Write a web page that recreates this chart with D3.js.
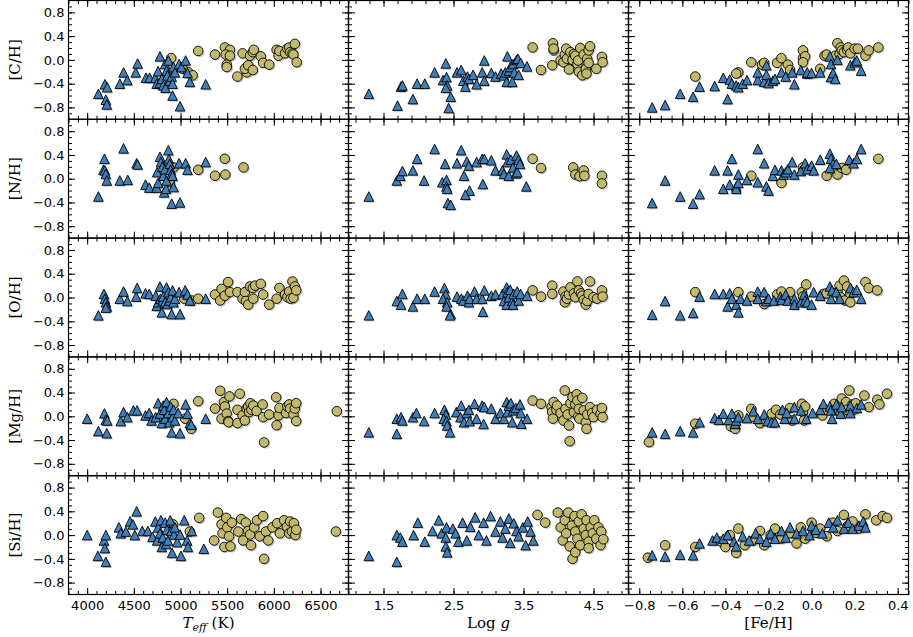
<!DOCTYPE html>
<html>
<head>
<meta charset="utf-8">
<script src="https://cdn.jsdelivr.net/npm/d3@7"></script>
<style>
  body { margin: 0; background: #fff; }
  svg { display: block; }
</style>
</head>
<body>
<svg id="chart" width="913" height="637"></svg>
<script>
// ---- Abundance data: [x, value] pairs, giants (triangles) and dwarfs (circles) ----
// [C/H]
const cTeffG = [[4120,-0.57],[4190,-0.41],[4215,-0.46],[4200,-0.67],[4210,-0.75],[4350,-0.40],[4390,-0.21],[4430,-0.34],[4520,-0.21],[4540,-0.06],[4630,-0.30],[4670,-0.30],[4730,-0.30],[4745,-0.40],[4760,-0.19],[4780,0.06],[4780,-0.39],[4800,-0.32],[4815,-0.43],[4835,-0.07],[4840,-0.47],[4850,-0.18],[4860,-0.26],[4870,-0.01],[4885,-0.35],[4905,-0.28],[4915,-0.40],[4915,-0.60],[4925,-0.12],[4940,-0.21],[4985,-0.07],[4995,-0.78],[5010,-0.12],[5055,-0.01],[5075,-0.22],[5100,-0.37],[5270,-0.41]];
const cTeffD = [[4900,0.03],[5025,-0.15],[5085,-0.21],[5130,-0.26],[5190,0.15],[5370,0.09],[5475,0.21],[5530,0.17],[5485,0.09],[5530,0.07],[5495,-0.08],[5495,-0.12],[5610,-0.28],[5665,0.11],[5710,-0.21],[5690,-0.15],[5725,-0.09],[5745,0.07],[5775,0.13],[5785,0.17],[5775,-0.17],[5860,0.06],[5885,-0.05],[5950,-0.08],[6030,0.17],[6050,0.07],[6060,0.15],[6120,0.11],[6145,0.19],[6165,0.21],[6175,0.13],[6200,0.11],[6210,0.09],[6225,0.27],[6245,-0.04]];
const cLoggG = [[1.29,-0.57],[1.70,-0.77],[1.75,-0.45],[1.77,-0.43],[1.92,-0.66],[1.98,-0.40],[2.09,-0.40],[2.23,-0.21],[2.39,-0.06],[2.35,-0.34],[2.40,-0.29],[2.41,-0.43],[2.39,-0.47],[2.46,-0.62],[2.43,-0.81],[2.55,-0.21],[2.61,-0.17],[2.64,-0.35],[2.67,-0.45],[2.70,-0.28],[2.72,-0.32],[2.78,-0.25],[2.83,-0.41],[2.91,-0.21],[2.94,-0.35],[2.94,-0.01],[3.04,-0.22],[3.10,-0.28],[3.18,-0.23],[3.22,-0.26],[3.24,-0.21],[3.26,-0.37],[3.27,0.06],[3.29,-0.18],[3.31,-0.12],[3.34,-0.37],[3.35,-0.07],[3.37,-0.21],[3.40,0.00],[3.42,0.02],[3.43,-0.25],[3.46,-0.05],[3.55,-0.11]];
const cLoggD = [[3.63,0.21],[3.75,-0.17],[3.91,-0.09],[3.92,0.28],[3.93,0.16],[3.93,0.19],[4.03,-0.01],[4.07,-0.04],[4.09,0.09],[4.11,0.19],[4.12,0.02],[4.15,-0.16],[4.17,0.13],[4.20,0.00],[4.22,0.10],[4.24,0.07],[4.27,-0.07],[4.28,-0.01],[4.29,-0.20],[4.31,0.20],[4.34,-0.26],[4.36,0.09],[4.39,-0.15],[4.40,-0.23],[4.41,0.02],[4.43,-0.05],[4.43,0.16],[4.45,0.23],[4.54,-0.15],[4.62,0.05],[4.63,-0.04]];
const cFehG = [[-0.74,-0.80],[-0.68,-0.76],[-0.61,-0.57],[-0.55,-0.62],[-0.52,-0.45],[-0.45,-0.44],[-0.41,-0.30],[-0.39,-0.66],[-0.38,-0.33],[-0.37,-0.40],[-0.35,-0.43],[-0.34,-0.46],[-0.32,-0.40],[-0.30,-0.34],[-0.25,-0.34],[-0.25,-0.21],[-0.22,-0.37],[-0.21,-0.09],[-0.21,-0.25],[-0.20,-0.39],[-0.18,-0.35],[-0.17,-0.32],[-0.14,-0.21],[-0.12,-0.28],[-0.08,-0.41],[-0.09,-0.21],[-0.05,-0.17],[-0.02,-0.23],[-0.02,-0.21],[0.00,-0.22],[0.04,-0.21],[0.085,0.06],[0.09,-0.07],[0.09,-0.29],[0.10,-0.22],[0.11,-0.32],[0.12,0.00],[0.18,-0.09],[0.20,-0.04],[0.21,-0.01],[0.23,-0.18]];
const cFehD = [[-0.54,-0.28],[-0.34,-0.21],[-0.35,-0.23],[-0.28,-0.04],[-0.23,-0.08],[-0.22,-0.05],[-0.16,-0.05],[-0.14,0.03],[-0.11,-0.08],[-0.10,-0.17],[-0.04,0.03],[-0.04,0.16],[-0.03,0.06],[-0.04,-0.04],[0.04,-0.15],[0.06,0.07],[0.07,0.09],[0.11,0.07],[0.12,0.28],[0.13,0.10],[0.135,0.21],[0.14,0.16],[0.15,0.13],[0.165,0.17],[0.17,0.21],[0.18,0.11],[0.20,0.19],[0.215,0.19],[0.25,0.07],[0.265,0.16],[0.31,0.21]];

// [N/H]
const nTeffG = [[4120,-0.30],[4185,0.335],[4175,0.15],[4190,0.14],[4200,0.08],[4210,-0.03],[4350,-0.03],[4390,0.51],[4435,-0.02],[4530,0.26],[4540,0.24],[4625,-0.10],[4665,-0.15],[4745,-0.15],[4750,0.11],[4760,-0.07],[4780,0.37],[4790,0.28],[4805,0.20],[4815,0.05],[4825,-0.23],[4835,0.16],[4845,-0.17],[4850,-0.03],[4870,0.48],[4875,0.33],[4885,0.25],[4895,0.15],[4905,0.08],[4905,-0.42],[4915,0.05],[4925,-0.14],[4985,0.26],[4995,-0.40],[5055,0.26],[5075,0.15],[5270,0.28]];
const nTeffD = [[4925,0.19],[4885,-0.06],[5190,0.15],[5370,0.05],[5475,0.335],[5480,0.07],[5675,0.19]];
const nLoggG = [[1.29,-0.30],[1.69,-0.03],[1.74,0.05],[1.77,0.13],[1.92,0.14],[1.98,0.335],[2.08,-0.03],[2.23,0.50],[2.38,0.25],[2.34,-0.06],[2.40,-0.02],[2.40,-0.13],[2.41,-0.17],[2.42,-0.41],[2.46,-0.44],[2.55,0.26],[2.61,0.48],[2.65,0.05],[2.69,0.29],[2.72,0.22],[2.73,-0.20],[2.67,-0.27],[2.83,0.28],[2.91,0.335],[2.94,0.335],[2.92,-0.09],[3.04,0.31],[3.10,0.14],[3.20,0.14],[3.22,0.08],[3.26,0.41],[3.27,0.28],[3.29,0.05],[3.32,0.32],[3.35,0.19],[3.39,0.09],[3.40,0.39],[3.41,0.11],[3.43,0.32],[3.45,0.25],[3.54,-0.13]];
const nLoggD = [[3.63,0.335],[3.75,0.18],[4.21,0.19],[4.24,0.07],[4.30,0.04],[4.36,0.14],[4.37,0.05],[4.62,0.05],[4.62,-0.08]];
const nFehG = [[-0.74,-0.41],[-0.68,-0.03],[-0.61,-0.30],[-0.55,-0.42],[-0.52,-0.26],[-0.45,0.14],[-0.41,-0.17],[-0.39,0.14],[-0.37,0.335],[-0.38,-0.10],[-0.35,-0.13],[-0.35,-0.17],[-0.34,0.07],[-0.34,-0.07],[-0.30,-0.02],[-0.25,0.50],[-0.25,-0.06],[-0.22,0.26],[-0.21,-0.13],[-0.20,-0.20],[-0.18,0.05],[-0.17,0.15],[-0.14,0.14],[-0.13,0.07],[-0.12,0.11],[-0.11,0.16],[-0.09,0.28],[-0.08,0.07],[-0.05,0.13],[-0.03,0.26],[-0.02,0.16],[0.00,0.22],[0.01,0.14],[0.04,0.32],[0.085,0.42],[0.09,0.335],[0.10,0.25],[0.085,0.18],[0.115,0.25],[0.175,0.32],[0.195,0.26],[0.21,0.335],[0.23,0.50]];
const nFehD = [[-0.28,0.05],[-0.14,-0.07],[-0.04,0.19],[0.07,0.05],[0.12,0.07],[0.14,0.18],[0.16,0.15],[0.31,0.335]];

// [O/H]
const oTeffG = [[4120,-0.30],[4180,0.06],[4190,-0.02],[4200,-0.08],[4210,-0.15],[4200,-0.17],[4350,-0.02],[4390,0.10],[4430,-0.06],[4525,0.015],[4535,0.16],[4625,0.07],[4665,0.06],[4735,0.03],[4745,-0.14],[4760,-0.08],[4780,0.185],[4785,-0.02],[4800,-0.25],[4810,-0.05],[4815,0.015],[4835,-0.08],[4850,0.17],[4860,-0.11],[4870,0.09],[4880,-0.05],[4895,0.005],[4905,-0.28],[4915,0.12],[4925,-0.08],[4940,-0.02],[4985,0.09],[4995,-0.28],[5050,0.12],[5075,0.05],[5100,-0.05],[5270,-0.02]];
const oTeffD = [[5040,-0.02],[5120,-0.05],[5190,-0.02],[5370,0.05],[5425,-0.05],[5440,0.145],[5475,0.03],[5510,0.26],[5530,0.09],[5610,0.09],[5665,-0.02],[5690,0.09],[5700,-0.06],[5725,-0.12],[5745,0.185],[5775,0.16],[5780,-0.02],[5800,0.20],[5860,0.23],[5885,0.05],[5950,-0.12],[6030,-0.02],[6060,0.16],[6120,0.05],[6145,0.005],[6165,0.10],[6180,-0.02],[6200,0.27],[6210,-0.005],[6225,0.185],[6240,0.12]];
const oLoggG = [[1.29,-0.30],[1.69,-0.06],[1.75,-0.12],[1.77,0.06],[1.92,-0.15],[1.98,-0.02],[2.09,-0.02],[2.23,0.10],[2.37,0.16],[2.39,0.05],[2.35,-0.02],[2.41,-0.08],[2.40,-0.15],[2.46,-0.28],[2.45,-0.30],[2.55,0.015],[2.61,-0.02],[2.64,-0.05],[2.70,0.03],[2.72,-0.08],[2.73,-0.02],[2.80,0.10],[2.83,-0.02],[2.91,-0.02],[2.94,0.12],[2.92,-0.24],[3.04,0.03],[3.10,0.05],[3.20,0.06],[3.22,-0.06],[3.26,0.17],[3.26,-0.12],[3.27,0.09],[3.29,0.005],[3.31,0.13],[3.34,-0.06],[3.35,-0.12],[3.36,0.06],[3.41,0.10],[3.43,-0.05],[3.46,0.06],[3.55,0.03]];
const oLoggD = [[3.63,0.12],[3.75,0.015],[3.91,0.20],[3.91,0.06],[4.07,0.10],[4.09,-0.08],[4.10,0.015],[4.12,-0.02],[4.15,0.05],[4.17,0.17],[4.22,0.07],[4.24,0.005],[4.27,0.27],[4.29,0.12],[4.32,0.07],[4.34,0.03],[4.36,-0.04],[4.39,-0.12],[4.41,-0.06],[4.43,0.06],[4.45,0.27],[4.50,0.005],[4.55,-0.02],[4.62,0.12],[4.63,0.015]];
const oFehG = [[-0.74,-0.29],[-0.68,-0.06],[-0.61,-0.30],[-0.55,-0.26],[-0.52,0.015],[-0.45,0.06],[-0.41,0.06],[-0.39,-0.15],[-0.38,0.07],[-0.37,-0.02],[-0.35,-0.12],[-0.34,-0.25],[-0.33,-0.02],[-0.30,-0.05],[-0.25,0.10],[-0.25,-0.02],[-0.22,0.09],[-0.21,-0.06],[-0.20,-0.02],[-0.175,-0.05],[-0.145,0.015],[-0.14,-0.04],[-0.12,0.05],[-0.11,-0.05],[-0.08,-0.02],[-0.08,-0.12],[-0.05,-0.08],[-0.035,0.05],[-0.03,-0.05],[-0.02,-0.08],[0.00,-0.12],[0.01,0.09],[0.04,0.03],[0.085,0.185],[0.09,-0.02],[0.095,0.12],[0.115,0.09],[0.13,-0.02],[0.18,0.16],[0.195,0.09],[0.21,0.13],[0.23,-0.02]];
const oFehD = [[-0.54,0.09],[-0.34,0.09],[-0.28,0.015],[-0.22,-0.11],[-0.16,0.05],[-0.14,0.10],[-0.10,0.09],[-0.045,0.09],[-0.025,0.22],[-0.04,0.015],[0.055,0.06],[0.07,0.07],[0.12,0.09],[0.13,0.20],[0.135,0.005],[0.15,0.285],[0.155,-0.05],[0.165,0.185],[0.18,0.06],[0.18,-0.08],[0.25,0.26],[0.265,0.16],[0.305,0.12]];

// [Mg/H]
const mgTeffG = [[4000,-0.04],[4120,-0.25],[4185,0.05],[4200,-0.06],[4210,-0.285],[4215,-0.07],[4360,-0.08],[4390,0.07],[4430,-0.015],[4495,0.10],[4535,0.10],[4625,0.015],[4665,0.055],[4690,-0.07],[4735,-0.015],[4760,0.22],[4780,0.045],[4800,-0.115],[4815,0.18],[4825,0.11],[4835,-0.04],[4850,0.24],[4870,0.055],[4880,-0.10],[4895,0.165],[4905,-0.27],[4915,-0.015],[4925,0.11],[4940,-0.07],[4975,0.055],[4995,-0.285],[5055,0.20],[5075,0.045],[5100,-0.115],[5115,-0.14],[5270,-0.04]];
const mgTeffD = [[4925,0.21],[5050,-0.04],[5115,-0.21],[5190,0.255],[5370,0.13],[5425,0.43],[5440,-0.04],[5465,0.24],[5475,0.165],[5495,0.045],[5510,-0.08],[5525,0.335],[5515,-0.10],[5610,-0.115],[5610,0.11],[5635,0.38],[5665,0.015],[5690,-0.07],[5710,0.13],[5725,0.165],[5735,0.07],[5750,0.22],[5760,0.11],[5780,0.18],[5815,0.09],[5880,0.20],[5885,-0.015],[5895,-0.44],[5950,0.03],[6025,0.32],[6030,-0.15],[6050,0.015],[6060,0.14],[6130,0.055],[6145,0.165],[6165,0.20],[6175,0.13],[6210,0.03],[6225,0.13],[6240,0.22],[6240,-0.08],[6675,0.085]];
const mgLoggG = [[1.29,-0.27],[1.69,-0.295],[1.69,-0.04],[1.75,-0.015],[1.77,-0.07],[1.92,-0.015],[1.97,0.055],[2.08,-0.08],[2.23,0.055],[2.37,0.11],[2.39,0.03],[2.36,-0.04],[2.40,-0.08],[2.41,-0.155],[2.45,-0.27],[2.54,0.07],[2.61,0.18],[2.60,-0.015],[2.65,-0.10],[2.69,0.055],[2.72,0.11],[2.73,-0.08],[2.80,0.21],[2.83,-0.04],[2.91,0.18],[2.94,0.155],[2.93,-0.13],[3.04,0.13],[3.10,-0.04],[3.17,0.055],[3.22,-0.04],[3.26,0.24],[3.27,0.07],[3.29,0.18],[3.32,0.22],[3.34,-0.10],[3.35,0.10],[3.39,0.14],[3.45,0.20],[3.46,0.055],[3.47,-0.125],[3.55,-0.04]];
const mgLoggD = [[3.63,0.265],[3.75,0.21],[3.90,0.155],[3.91,0.07],[3.92,-0.04],[3.93,0.24],[3.97,0.11],[3.98,0.18],[4.03,0.055],[4.07,-0.07],[4.09,0.435],[4.10,0.125],[4.13,0.03],[4.15,-0.155],[4.16,-0.42],[4.17,0.22],[4.20,0.325],[4.22,0.07],[4.24,0.20],[4.26,0.37],[4.27,0.265],[4.28,-0.005],[4.29,0.125],[4.30,-0.04],[4.34,0.31],[4.36,0.10],[4.39,-0.10],[4.40,-0.21],[4.41,0.03],[4.45,0.155],[4.48,0.055],[4.50,-0.015],[4.55,0.11],[4.60,0.04],[4.62,0.14],[4.63,-0.015]];
const mgFehG = [[-0.74,-0.27],[-0.68,-0.295],[-0.61,-0.25],[-0.55,-0.27],[-0.52,-0.10],[-0.45,-0.03],[-0.43,-0.06],[-0.41,0.045],[-0.385,-0.06],[-0.37,0.045],[-0.355,-0.125],[-0.35,-0.07],[-0.34,-0.015],[-0.30,-0.03],[-0.27,0.085],[-0.25,-0.04],[-0.22,0.03],[-0.205,-0.08],[-0.185,-0.10],[-0.17,-0.10],[-0.135,0.11],[-0.125,-0.04],[-0.115,0.055],[-0.08,0.155],[-0.08,-0.04],[-0.05,0.10],[-0.025,-0.04],[0.005,0.055],[0.04,0.11],[0.055,0.21],[0.085,0.165],[0.09,0.10],[0.095,-0.04],[0.115,0.20],[0.135,0.045],[0.14,0.155],[0.18,0.18],[0.18,0.055],[0.21,0.14],[0.23,0.20]];
const mgFehD = [[-0.755,-0.435],[-0.54,-0.125],[-0.375,-0.17],[-0.355,-0.21],[-0.34,0.015],[-0.28,0.125],[-0.27,-0.005],[-0.24,-0.115],[-0.185,0.045],[-0.165,0.11],[-0.145,0.03],[-0.10,0.14],[-0.09,-0.07],[-0.045,0.21],[-0.04,0.07],[-0.035,-0.07],[-0.03,0.165],[0.05,0.015],[0.065,0.11],[0.105,0.21],[0.115,0.125],[0.135,0.055],[0.14,0.30],[0.16,0.24],[0.165,0.11],[0.175,0.435],[0.19,0.20],[0.195,0.11],[0.205,0.22],[0.245,0.35],[0.265,0.155],[0.305,0.28],[0.315,0.20],[0.35,0.38]];

// [Si/H]
const siTeffG = [[4000,0.00],[4115,-0.35],[4180,-0.09],[4190,-0.22],[4200,-0.45],[4200,0.00],[4340,0.13],[4360,0.03],[4415,0.06],[4460,0.23],[4490,0.18],[4510,0.00],[4530,0.40],[4590,0.07],[4650,0.07],[4700,-0.03],[4730,0.23],[4750,-0.09],[4760,0.13],[4780,0.03],[4790,0.25],[4800,-0.20],[4810,-0.04],[4835,0.21],[4845,-0.15],[4855,0.09],[4865,-0.09],[4890,0.25],[4900,0.07],[4910,-0.30],[4930,0.01],[4940,0.13],[4965,-0.12],[4995,0.01],[5005,-0.35],[5040,0.25],[5070,-0.09],[5080,-0.20],[5120,0.07],[5250,-0.23]];
const siTeffD = [[4920,0.18],[5100,0.06],[5200,0.29],[5360,-0.09],[5400,0.38],[5440,0.18],[5450,0.03],[5470,-0.20],[5490,0.29],[5500,0.13],[5520,-0.02],[5535,-0.19],[5550,0.21],[5620,0.06],[5650,0.27],[5670,-0.09],[5700,0.21],[5725,0.07],[5745,0.01],[5755,-0.17],[5790,0.13],[5820,0.25],[5850,-0.02],[5885,0.32],[5895,-0.40],[5915,0.06],[5940,-0.09],[5985,0.13],[6035,0.20],[6065,0.03],[6110,0.25],[6140,0.14],[6165,0.03],[6175,0.23],[6195,0.06],[6215,0.20],[6230,0.00],[6240,0.09],[6665,0.06]];
const siLoggG = [[1.29,-0.35],[1.69,0.00],[1.69,-0.45],[1.74,-0.04],[1.77,-0.11],[1.93,0.00],[1.99,0.21],[2.09,-0.11],[2.20,0.07],[2.29,0.25],[2.33,0.03],[2.39,-0.04],[2.39,-0.19],[2.41,-0.29],[2.40,0.13],[2.49,0.11],[2.53,0.03],[2.57,-0.11],[2.63,0.21],[2.69,-0.09],[2.74,0.14],[2.81,0.30],[2.86,0.00],[2.93,0.21],[2.97,-0.09],[3.03,0.32],[3.10,0.06],[3.17,0.23],[3.20,-0.04],[3.24,0.11],[3.29,0.28],[3.31,-0.13],[3.36,0.20],[3.40,0.07],[3.43,-0.02],[3.49,0.13],[3.53,-0.17],[3.56,0.23],[3.60,0.06],[3.64,-0.09]];
const siLoggD = [[3.70,0.34],[3.81,0.21],[3.99,0.38],[4.03,0.13],[4.06,-0.09],[4.09,0.25],[4.11,0.03],[4.14,0.38],[4.16,-0.19],[4.19,0.16],[4.20,-0.40],[4.23,0.32],[4.24,0.06],[4.24,-0.29],[4.27,-0.06],[4.29,0.23],[4.31,-0.17],[4.33,0.35],[4.36,0.11],[4.39,0.00],[4.40,0.25],[4.43,-0.11],[4.43,-0.22],[4.46,0.13],[4.49,0.03],[4.51,0.25],[4.54,-0.06],[4.57,0.13],[4.60,-0.17],[4.61,0.06],[4.64,-0.07]];
const siFehG = [[-0.74,-0.34],[-0.68,-0.36],[-0.61,-0.33],[-0.55,-0.34],[-0.52,-0.14],[-0.46,-0.09],[-0.44,-0.04],[-0.41,-0.06],[-0.39,0.00],[-0.36,-0.11],[-0.35,-0.19],[-0.32,-0.02],[-0.29,-0.09],[-0.26,0.03],[-0.24,-0.06],[-0.21,-0.11],[-0.19,0.03],[-0.17,-0.06],[-0.14,0.07],[-0.12,-0.04],[-0.10,0.13],[-0.07,0.03],[-0.04,0.07],[-0.01,0.00],[0.00,0.16],[0.02,0.09],[0.05,0.03],[0.08,0.21],[0.10,0.13],[0.12,0.25],[0.15,0.11],[0.17,0.21],[0.19,0.11],[0.22,0.16],[0.24,0.23],[0.25,0.13]];
const siFehD = [[-0.76,-0.38],[-0.68,-0.17],[-0.54,-0.20],[-0.42,-0.11],[-0.40,-0.20],[-0.38,0.00],[-0.35,-0.30],[-0.34,0.11],[-0.31,-0.17],[-0.27,-0.09],[-0.24,0.07],[-0.22,-0.17],[-0.19,0.00],[-0.17,0.11],[-0.14,-0.06],[-0.10,0.03],[-0.07,-0.14],[-0.05,0.13],[-0.03,-0.06],[0.00,0.21],[0.02,0.04],[0.04,0.11],[0.07,-0.02],[0.10,0.21],[0.12,0.07],[0.15,0.34],[0.17,0.16],[0.19,0.23],[0.22,0.11],[0.25,0.35],[0.30,0.25],[0.33,0.32],[0.35,0.29]];

// ---- Axis definitions ----
const yMajor = [-0.8, -0.4, 0, 0.4, 0.8];
const yMinor = d3.range(-9, 10).map(i => i / 10);
const teffMajor = [4000, 4500, 5000, 5500, 6000, 6500];
const loggMajor = [1.5, 2.5, 3.5, 4.5];
const fehMajor = [-0.8, -0.6, -0.4, -0.2, 0, 0.2, 0.4];

const columns = [
  { domain: [3800, 6800], major: teffMajor, minor: d3.range(38, 69).map(i => i * 100), fmt: d3.format("d") },
  { domain: [1.0, 5.0], major: loggMajor, minor: d3.range(0, 20).map(i => 1.1 + 0.2 * i), fmt: d3.format(".1f") },
  { domain: [-0.85, 0.45], major: fehMajor, minor: d3.range(-17, 10).map(i => i * 0.05), fmt: d3.format(".1f") }
];

const rows = [
  { label: "[C/H]",  giants: [cTeffG, cLoggG, cFehG],    dwarfs: [cTeffD, cLoggD, cFehD] },
  { label: "[N/H]",  giants: [nTeffG, nLoggG, nFehG],    dwarfs: [nTeffD, nLoggD, nFehD] },
  { label: "[O/H]",  giants: [oTeffG, oLoggG, oFehG],    dwarfs: [oTeffD, oLoggD, oFehD] },
  { label: "[Mg/H]", giants: [mgTeffG, mgLoggG, mgFehG], dwarfs: [mgTeffD, mgLoggD, mgFehD] },
  { label: "[Si/H]", giants: [siTeffG, siLoggG, siFehG], dwarfs: [siTeffD, siLoggD, siFehD] }
];

// ---- Layout & style ----
const gridLeft = 68.5, gridTop = 0.5, pw = 280, ph = 118.8;
const giantFill = "#3f7fba", dwarfFill = "#c3b96d";
const ms = 4.8;   // marker half-size
const tickFont = "DejaVu Sans", labelFont = "DejaVu Serif";
const tri = `M0,${-ms}L${ms},${ms}L${-ms},${ms}Z`;

const svg = d3.select("#chart");
const defs = svg.append("defs");
const fmtY = d3.format(".1f");

function styleAxis(g) {
  g.select(".domain").remove();
  g.selectAll(".tick line").attr("stroke", "#000").attr("stroke-width", 1);
  g.selectAll(".tick text").attr("font-family", tickFont).attr("font-size", 13).attr("fill", "#000");
}

rows.forEach((row, r) => {
  columns.forEach((col, c) => {
    const x0 = gridLeft + c * pw, y0 = gridTop + r * ph;
    const x = d3.scaleLinear().domain(col.domain).range([x0, x0 + pw]);
    const y = d3.scaleLinear().domain([-1, 1]).range([y0 + ph, y0]);
    const clipId = `clip-${r}-${c}`;
    defs.append("clipPath").attr("id", clipId)
      .append("rect").attr("x", x0).attr("y", y0).attr("width", pw).attr("height", ph);

    const panel = svg.append("g");
    const marks = panel.append("g").attr("clip-path", `url(#${clipId})`);

    // dwarfs (circles) underneath, giants (triangles) on top; each with a soft drop shadow
    const dw = row.dwarfs[c], gi = row.giants[c];
    marks.append("g").selectAll("circle").data(dw).join("circle")
      .attr("cx", d => x(d[0]) + 1.4).attr("cy", d => y(d[1]) + 1.4).attr("r", ms)
      .attr("fill", "#000").attr("fill-opacity", 0.22);
    marks.append("g").selectAll("circle").data(dw).join("circle")
      .attr("cx", d => x(d[0])).attr("cy", d => y(d[1])).attr("r", ms)
      .attr("fill", dwarfFill).attr("stroke", "#000").attr("stroke-width", 0.9);
    marks.append("g").selectAll("path").data(gi).join("path")
      .attr("d", tri).attr("transform", d => `translate(${x(d[0]) + 1.4},${y(d[1]) + 1.4})`)
      .attr("fill", "#000").attr("fill-opacity", 0.22);
    marks.append("g").selectAll("path").data(gi).join("path")
      .attr("d", tri).attr("transform", d => `translate(${x(d[0])},${y(d[1])})`)
      .attr("fill", giantFill).attr("stroke", "#000").attr("stroke-width", 0.9)
      .attr("stroke-linejoin", "miter");

    // inward ticks on all four sides
    const axes = panel.append("g");
    axes.append("g").attr("transform", `translate(${x0},0)`)
      .call(d3.axisLeft(y).tickValues(yMinor).tickSize(-3.5).tickFormat("")).call(styleAxis);
    axes.append("g").attr("transform", `translate(${x0},0)`)
      .call(d3.axisLeft(y).tickValues(yMajor).tickSize(-6.5).tickPadding(4)
        .tickFormat(c === 0 ? fmtY : "")).call(styleAxis);
    axes.append("g").attr("transform", `translate(${x0 + pw},0)`)
      .call(d3.axisRight(y).tickValues(yMinor).tickSize(-3.5).tickFormat("")).call(styleAxis);
    axes.append("g").attr("transform", `translate(${x0 + pw},0)`)
      .call(d3.axisRight(y).tickValues(yMajor).tickSize(-6.5).tickFormat("")).call(styleAxis);

    axes.append("g").attr("transform", `translate(0,${y0 + ph})`)
      .call(d3.axisBottom(x).tickValues(col.minor).tickSize(-3.5).tickFormat("")).call(styleAxis);
    axes.append("g").attr("transform", `translate(0,${y0 + ph})`)
      .call(d3.axisBottom(x).tickValues(col.major).tickSize(-6.5).tickPadding(6)
        .tickFormat(r === rows.length - 1 ? col.fmt : "")).call(styleAxis);
    axes.append("g").attr("transform", `translate(0,${y0})`)
      .call(d3.axisTop(x).tickValues(col.minor).tickSize(-3.5).tickFormat("")).call(styleAxis);
    axes.append("g").attr("transform", `translate(0,${y0})`)
      .call(d3.axisTop(x).tickValues(col.major).tickSize(-6.5).tickFormat("")).call(styleAxis);

    // panel frame
    panel.append("rect").attr("x", x0).attr("y", y0).attr("width", pw).attr("height", ph)
      .attr("fill", "none").attr("stroke", "#000").attr("stroke-width", 1.2);
  });

  // row label
  svg.append("text")
    .attr("transform", `translate(20,${gridTop + r * ph + ph / 2}) rotate(-90)`)
    .attr("text-anchor", "middle").attr("font-family", labelFont).attr("font-size", 15)
    .text(row.label);
});

// column labels
const xLabelY = 628;
const teffLabel = svg.append("text").attr("x", gridLeft + pw / 2).attr("y", xLabelY)
  .attr("text-anchor", "middle").attr("font-family", labelFont).attr("font-size", 15);
teffLabel.append("tspan").attr("font-style", "italic").text("T");
teffLabel.append("tspan").attr("font-style", "italic").attr("font-size", 11).attr("dy", 3).text("eff");
teffLabel.append("tspan").attr("dy", -3).text(" (K)");

const loggLabel = svg.append("text").attr("x", gridLeft + pw * 1.5).attr("y", xLabelY)
  .attr("text-anchor", "middle").attr("font-family", labelFont).attr("font-size", 15);
loggLabel.append("tspan").text("Log ");
loggLabel.append("tspan").attr("font-style", "italic").text("g");

svg.append("text").attr("x", gridLeft + pw * 2.5).attr("y", xLabelY)
  .attr("text-anchor", "middle").attr("font-family", labelFont).attr("font-size", 15)
  .text("[Fe/H]");
</script>
</body>
</html>
